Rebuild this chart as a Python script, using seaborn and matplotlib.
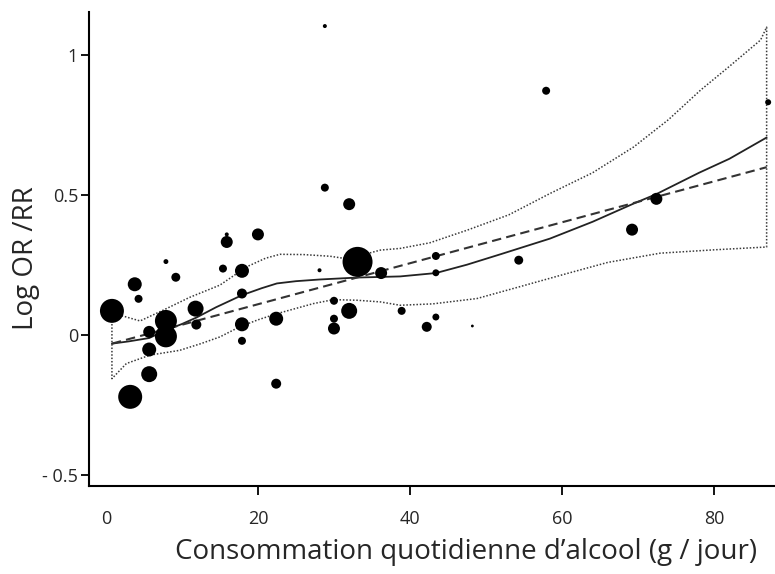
import numpy as np
import pandas as pd
import matplotlib
matplotlib.use("Agg")
import matplotlib.pyplot as plt
import seaborn as sns

# études : consommation (g/jour), log OR/RR, poids de l'étude
conso = [0.8, 3.8, 4.3, 7.9, 9.2, 15.9, 15.9, 20.0, 15.4, 17.9, 17.9, 17.9, 17.9,
         11.8, 11.9, 7.9, 7.9, 5.7, 5.7, 5.7, 3.2, 22.4, 22.4, 28.1, 33.1, 36.2,
         30.0, 32.0, 30.0, 30.0, 38.9, 42.2, 28.8, 28.8, 32.0, 57.9, 87.1, 72.4,
         69.2, 54.3, 43.4, 43.4, 43.4, 48.2]
log_or = [0.087, 0.182, 0.13, 0.263, 0.207, 0.333, 0.36, 0.36, 0.238, 0.23, 0.149,
          0.039, -0.02, 0.095, 0.038, 0.051, -0.004, 0.012, -0.051, -0.139, -0.22,
          0.059, -0.173, 0.232, 0.262, 0.222, 0.123, 0.087, 0.059, 0.024, 0.087,
          0.03, 1.104, 0.527, 0.468, 0.873, 0.832, 0.487, 0.377, 0.268, 0.283,
          0.223, 0.065, 0.033]
poids = [144, 49, 16, 6, 20, 36, 4, 36, 16, 49, 25, 49, 16, 64, 25, 121, 121, 36,
         49, 64, 144, 49, 25, 4, 225, 36, 16, 64, 16, 36, 16, 25, 4, 16, 36, 16,
         9, 36, 36, 20, 16, 12, 12, 2]

# courbe spline (trait plein)
spline_x = [0.8, 3.0, 5.7, 7.9, 10.0, 11.9, 14.5, 17.9, 20.5, 22.5, 25.0, 28.1,
            33.1, 38.7, 43.4, 47.5, 52.0, 58.4, 64.0, 69.4, 72.4, 78.0, 82.0, 86.9]
spline_y = [-0.03, -0.022, -0.01, 0.018, 0.04, 0.063, 0.1, 0.143, 0.168, 0.185,
            0.193, 0.199, 0.206, 0.21, 0.222, 0.252, 0.29, 0.345, 0.405, 0.47,
            0.504, 0.58, 0.63, 0.706]

# modèle linéaire (tirets)
lin_x = [0.8, 43.4, 86.9]
lin_y = [-0.03, 0.282, 0.6]

# intervalle de confiance (pointillés)
ic_haut_x = [0.8, 2.7, 4.5, 7.5, 11.0, 15.0, 18.5, 21.0, 22.9, 26.0, 29.5, 31.2,
             33.5, 36.1, 38.7, 42.6, 47.5, 53.0, 58.4, 64.0, 69.4, 74.0, 78.2,
             82.0, 86.1, 86.9]
ic_haut_y = [0.08, 0.065, 0.051, 0.089, 0.135, 0.179, 0.244, 0.275, 0.289, 0.288,
             0.282, 0.275, 0.285, 0.304, 0.31, 0.33, 0.375, 0.43, 0.506, 0.58,
             0.672, 0.77, 0.875, 0.96, 1.054, 1.1]
ic_bas_x = [0.8, 2.7, 5.8, 9.7, 12.5, 15.0, 17.6, 20.0, 22.5, 27.3, 29.9, 33.0,
            36.1, 38.7, 43.0, 48.8, 54.0, 60.6, 66.0, 72.9, 80.0, 86.9]
ic_bas_y = [-0.155, -0.101, -0.071, -0.054, -0.03, -0.006, 0.03, 0.055, 0.077,
            0.113, 0.127, 0.125, 0.119, 0.107, 0.112, 0.131, 0.17, 0.22, 0.26,
            0.293, 0.305, 0.315]

sns.set_style("ticks")
plt.rcParams["font.family"] = ["Open Sans", "DejaVu Sans"]

fig = plt.figure(figsize=(7.75, 5.74), dpi=100)
ax = fig.add_axes([0.115, 0.153, 0.885, 0.826])

etudes = pd.DataFrame({"conso": conso, "log_or": log_or, "poids": poids})
sns.scatterplot(data=etudes, x="conso", y="log_or", size="poids",
                sizes=(2.07 * 2, 2.07 * 225), size_norm=(2, 225),
                color="black", linewidth=0, legend=False, ax=ax, zorder=3)

sns.lineplot(x=spline_x, y=spline_y, color="#222222", lw=1.3, ax=ax,
             sort=False, estimator=None)
sns.lineplot(x=lin_x, y=lin_y, color="#333333", lw=1.5, ax=ax, sort=False,
             estimator=None, linestyle=(0, (4.5, 2.5)))
ic_x = ic_haut_x + ic_bas_x[::-1] + ic_haut_x[:1]
ic_y = ic_haut_y + ic_bas_y[::-1] + ic_haut_y[:1]
sns.lineplot(x=ic_x, y=ic_y, color="#3a3a3a", lw=1.1, ax=ax, sort=False,
             estimator=None, linestyle=(0, (1, 1.2)))

ax.set_xlim(-2.2, 88.0)
ax.set_ylim(-0.539, 1.154)
ax.set_xticks([0, 20, 40, 60, 80])
ax.set_yticks([-0.5, 0, 0.5, 1])
ax.set_yticklabels(["- 0.5", "0", "0.5", "1"])
ax.tick_params(axis="x", length=6.5, width=1.3, pad=11, labelsize=13, color="black")
ax.tick_params(axis="y", length=6, width=1.3, pad=2, labelsize=13, color="black")
ax.xaxis.get_major_ticks()[0].tick1line.set_visible(False)
for s in ["left", "bottom"]:
    ax.spines[s].set_linewidth(1.5)
    ax.spines[s].set_color("black")
sns.despine(ax=ax)

ax.set_xlabel("Consommation quotidienne d\u2019alcool (g / jour)", fontsize=20)
ax.set_ylabel("Log OR /RR", fontsize=20)
ax.xaxis.set_label_coords(0.55, -0.11)
ax.yaxis.set_label_coords(-0.072, 0.48)

fig.savefig("out.png", dpi=100)
